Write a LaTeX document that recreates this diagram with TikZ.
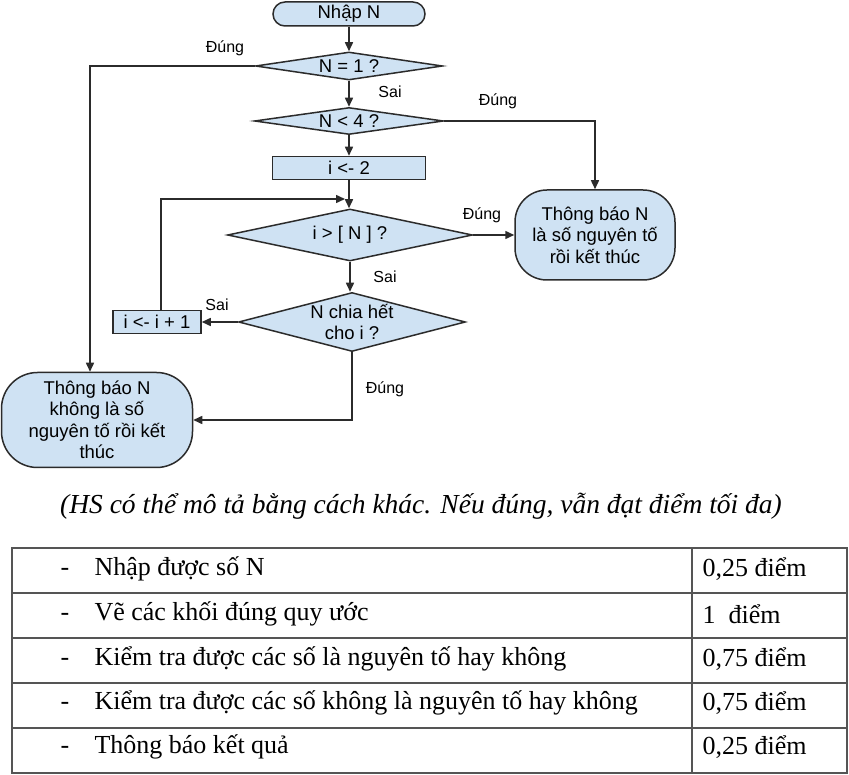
\documentclass[tikz,border=0pt]{standalone}
\usepackage{fontspec}
\setmainfont{Liberation Serif}
\newfontfamily\arialf{Liberation Sans}
\usetikzlibrary{shapes.geometric,arrows.meta,calc}
\definecolor{boxfill}{HTML}{CFE2F3}
\definecolor{boxline}{HTML}{2B2B2B}
\definecolor{tabline}{HTML}{555555}
\begin{document}
\begin{tikzpicture}[x=1pt,y=-1pt,
  every node/.style={font=\arialf\fontsize{18.5}{21.5}\selectfont},
  term/.style={draw=boxline,fill=boxfill,line width=1.5pt,rounded corners=#1,align=center,inner sep=0pt},
  proc/.style={draw=boxline,fill=boxfill,line width=1.5pt,rectangle,inner sep=0pt},
  dec/.style={draw=boxline,fill=boxfill,line width=1.5pt,diamond,aspect=8,inner sep=0pt,align=center},
  arr/.style={draw=boxline,line width=1.5pt,-{Triangle[length=9pt,width=8pt]}},
  lbl/.style={font=\arialf\fontsize{16}{18}\selectfont},
  tab/.style={font=\fontsize{26}{30}\selectfont,anchor=west},
]
\useasboundingbox (0,0) rectangle (849,775);
% nodes
\node[term=12pt,minimum width=152pt,minimum height=24pt] (start) at (349,14) {Nhập N};
\node[dec,minimum width=187pt,minimum height=28pt] (d1) at (349,66) {N = 1 ?};
\node[dec,minimum width=189pt,minimum height=27pt] (d2) at (349,121) {N < 4 ?};
\node[proc,minimum width=153pt,minimum height=23pt] (init) at (349,168) {i <- 2};
\node[dec,minimum width=245pt,minimum height=52pt] (d3) at (350,235) {i > [ N ] ?};
\node[dec,aspect=4,minimum width=220pt,minimum height=59pt] (d4) at (352,322) {N chia hết\\cho i ?};
\node[proc,minimum width=88pt,minimum height=23pt] (inc) at (157,322) {i <- i + 1};
\node[term=32pt,minimum width=160pt,minimum height=90pt] (yes) at (595,235) {Thông báo N\\là số nguyên tố\\rồi kết thúc};
\node[term=36pt,minimum width=191pt,minimum height=95pt] (no) at (97,420) {Thông báo N\\không là số\\nguyên tố rồi kết\\thúc};
% helper coordinates
\coordinate (c1) at (90,66);
\coordinate (m) at (349,199);
% connectors
\draw[arr] (start) -- (d1);
\draw[arr] (d1) -- (d2);
\draw[arr] (d1.west) -- (c1) -- (c1 |- no.north);
\draw[arr] (d2.east) -| (yes.north);
\draw[arr] (d2) -- (init);
\draw[arr] (init.south) -- (init.south |- d3.north);
\draw[arr] (d3.east) -- (yes.west);
\draw[arr] (d3.south) -- (d3.south |- d4.north);
\draw[arr] (d4.west) -- (inc.east);
\draw[arr] ([xshift=4pt]inc.north) |- ([xshift=-4pt]m);
\draw[arr] (d4.south) |- (no.east);
% labels
\node[lbl] (l1) at (225,48) {Đúng};
\node[lbl] (l2) at (390,92) {Sai};
\node[lbl] (l3) at (498,101) {Đúng};
\node[lbl] (l4) at (482,215) {Đúng};
\node[lbl] (l5) at (385,277) {Sai};
\node[lbl] (l6) at (217,305) {Sai};
\node[lbl] (l7) at (385,389) {Đúng};
% caption
\node[font=\itshape\fontsize{27.5}{31}\selectfont] (cap) at (421,506) {(HS có thể mô tả bằng cách khác. Nếu đúng, vẫn đạt điểm tối đa)};
% table
\draw[tabline,line width=1.3pt] (12,548) rectangle (847,773);
\foreach \y in {593,638,683,728} \draw[tabline,line width=1.3pt] (12,\y) -- (847,\y);
\draw[tabline,line width=1.3pt] (692,548) -- (692,773);
\foreach \y/\t/\p [count=\i] in {569/{Nhập được số N}/{0,25 điểm}, 614/{Vẽ các khối đúng quy ước}/{1\ \ điểm}, 659/{Kiểm tra được các số là nguyên tố hay không}/{0,75 điểm}, 703/{Kiểm tra được các số không là nguyên tố hay không}/{0,75 điểm}, 747/{Thông báo kết quả}/{0,25 điểm}}{
  \node[tab] (dash\i) at (57,\y+3) {-};
  \node[tab] (txt\i) at (91,\y) {\t};
  \node[tab] (pt\i) at (699,\y) {\p};
}
\end{tikzpicture}
\end{document}
